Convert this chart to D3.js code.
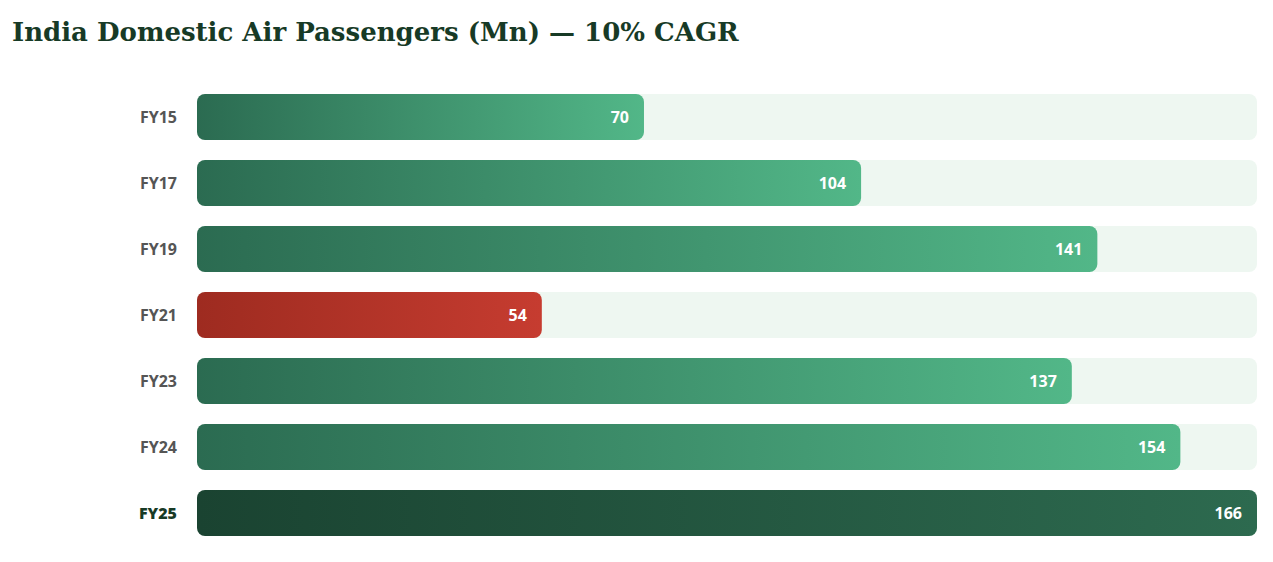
<!DOCTYPE html>
<html><head><meta charset="utf-8">
<script src="https://cdn.jsdelivr.net/npm/d3@7"></script>
<style>body{margin:0;background:#fff}</style></head>
<body><svg id="c" width="1273" height="562"></svg>
<script>
const categories=["FY15","FY17","FY19","FY21","FY23","FY24","FY25"];
const values=[70,104,141,54,137,154,166];
const kinds=["g","g","g","r","g","g","d"];
const svg=d3.select("#c");
svg.append("text").attr("x",12).attr("y",41).text("India Domestic Air Passengers (Mn) — 10% CAGR")
 .attr("font-family","DejaVu Serif, serif").attr("font-weight","bold").attr("font-size",26).attr("fill","#173a26");
const x=d3.scaleLinear().domain([0,166]).range([197,1257]);
const y=d3.scaleBand().domain(categories).range([84,546]).paddingInner(20/66).paddingOuter(10/66);
const defs=svg.append("defs");
const grads={g:["#2b6b51","#52b788"],r:["#9e2b20","#c63c30"],d:["#1a4331","#2d6a4f"]};
for(const k in grads){const lg=defs.append("linearGradient").attr("id","gr"+k);
 lg.append("stop").attr("offset","0%").attr("stop-color",grads[k][0]);
 lg.append("stop").attr("offset","100%").attr("stop-color",grads[k][1]);}
const row=svg.selectAll("g.r").data(categories).join("g");
row.append("rect").attr("x",x(0)).attr("y",d=>y(d)).attr("width",x(166)-x(0)).attr("height",y.bandwidth()).attr("rx",8).attr("fill","#eef7f1");
row.append("rect").attr("x",x(0)).attr("y",d=>y(d)).attr("width",(d,i)=>x(values[i])-x(0)).attr("height",y.bandwidth()).attr("rx",8).attr("fill",(d,i)=>`url(#gr${kinds[i]})`);
row.append("text").attr("x",(d,i)=>x(values[i])-15).attr("y",d=>y(d)+y.bandwidth()/2+6).attr("text-anchor","end")
 .attr("font-family","Noto Sans, sans-serif").attr("font-weight","bold").attr("font-size",16).attr("fill","#fff").text((d,i)=>values[i]);
row.append("text").attr("x",177).attr("y",d=>y(d)+y.bandwidth()/2+6).attr("text-anchor","end")
 .attr("font-family","Noto Sans, sans-serif").attr("font-weight",(d,i)=>i==6?"900":"bold").attr("font-size",16)
 .attr("fill",(d,i)=>i==6?"#173a26":"#555").text(d=>d);
</script></body></html>
